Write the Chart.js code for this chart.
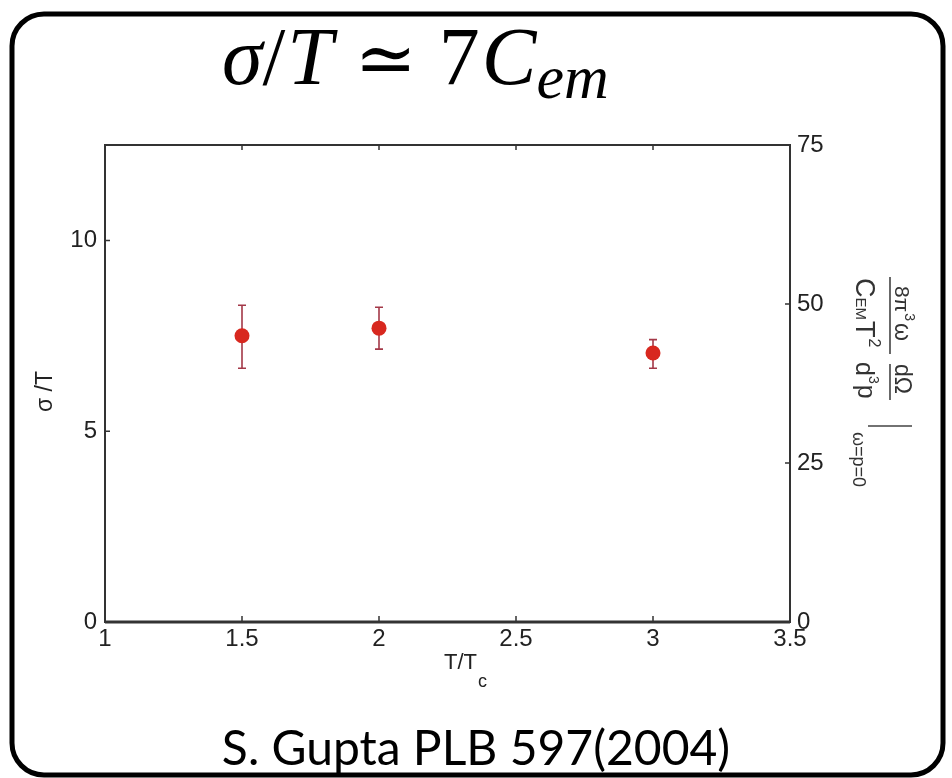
<!DOCTYPE html>
<html>
<head>
<meta charset="utf-8">
<script src="https://cdn.jsdelivr.net/npm/chart.js@4.4.0/dist/chart.umd.min.js"></script>
<style>
body { margin: 0; background: #fff; }
#wrap { width: 952px; height: 778px; }
</style>
</head>
<body>
<div id="wrap"><canvas id="myChart" width="952" height="778"></canvas></div>
<script>
// data
const tRatio = [1.5, 2, 3];
const sigmaT = [7.5, 7.7, 7.05];
const errHigh = [8.3, 8.25, 7.4];
const errLow = [6.65, 7.15, 6.65];
const xTicks = [1, 1.5, 2, 2.5, 3, 3.5];
const yTicks = [0, 5, 10];
const y2Ticks = [0, 25, 50, 75];

const sans = '"Liberation Sans", Arial, sans-serif';
const serif = '"Liberation Serif", "DejaVu Serif", serif';
const ink = '#222';

// page frame + white background
const pageFrame = {
    id: 'pageFrame',
    beforeDraw(chart) {
        const ctx = chart.ctx;
        ctx.save();
        ctx.fillStyle = '#fff';
        ctx.fillRect(0, 0, chart.width, chart.height);
        ctx.strokeStyle = '#000';
        ctx.lineWidth = 5;
        ctx.beginPath();
        ctx.roundRect(12, 14, 931, 761, 32);
        ctx.stroke();
        ctx.restore();
    }
};

// error bars drawn through the scales
const errorBars = {
    id: 'errorBars',
    beforeDatasetsDraw(chart) {
        const ctx = chart.ctx;
        const xs = chart.scales.x, ys = chart.scales.y;
        ctx.save();
        ctx.strokeStyle = '#a33848';
        ctx.lineWidth = 1.6;
        tRatio.forEach((t, i) => {
            const px = xs.getPixelForValue(t);
            const top = ys.getPixelForValue(errHigh[i]);
            const bot = ys.getPixelForValue(errLow[i]);
            ctx.beginPath();
            ctx.moveTo(px, top); ctx.lineTo(px, bot);
            ctx.moveTo(px - 4, top); ctx.lineTo(px + 4, top);
            ctx.moveTo(px - 4, bot); ctx.lineTo(px + 4, bot);
            ctx.stroke();
        });
        ctx.restore();
    }
};

// box around plot, inner ticks, all the titles
const decor = {
    id: 'decor',
    afterDraw(chart) {
        const ctx = chart.ctx;
        const a = chart.chartArea;
        const xs = chart.scales.x, ys = chart.scales.y, y2 = chart.scales.y2;
        ctx.save();
        ctx.strokeStyle = '#333';
        ctx.lineWidth = 2;
        ctx.strokeRect(a.left, a.top, a.right - a.left, a.bottom - a.top);
        ctx.lineWidth = 3;
        ctx.beginPath();
        ctx.moveTo(a.left, a.bottom); ctx.lineTo(a.right, a.bottom);
        ctx.stroke();

        ctx.lineWidth = 1.5;
        ctx.beginPath();
        xTicks.slice(1, -1).forEach(v => {
            const px = xs.getPixelForValue(v);
            ctx.moveTo(px, a.bottom); ctx.lineTo(px, a.bottom - 6);
            ctx.moveTo(px, a.top); ctx.lineTo(px, a.top + 5);
        });
        yTicks.slice(1).forEach(v => {
            const py = ys.getPixelForValue(v);
            ctx.moveTo(a.left, py); ctx.lineTo(a.left + 5, py);
        });
        y2Ticks.slice(1, -1).forEach(v => {
            const py = y2.getPixelForValue(v);
            ctx.moveTo(a.right, py); ctx.lineTo(a.right - 5, py);
        });
        ctx.stroke();

        ctx.fillStyle = ink;
        // left title
        ctx.save();
        ctx.translate(46, (a.top + a.bottom) / 2 + 8);
        ctx.rotate(-Math.PI / 2);
        ctx.font = '23px ' + sans;
        ctx.textAlign = 'center';
        ctx.textBaseline = 'middle';
        ctx.fillText('\u03C3 /T', 0, 0);
        ctx.restore();

        // bottom title T/T_c
        ctx.font = '22px ' + sans;
        ctx.textBaseline = 'alphabetic';
        ctx.textAlign = 'left';
        const xt = 'T/T';
        const cx = (a.left + a.right) / 2 + 17;
        const w = ctx.measureText(xt).width;
        ctx.fillText(xt, cx - w / 2 - 4, 669);
        ctx.font = '18px ' + sans;
        ctx.fillText('c', cx + w / 2 - 3, 687);

        drawRightTitle(ctx, a.right + 100, 276);

        // top formula
        drawFormula(ctx, 222, 84);

        // footer
        ctx.fillStyle = '#000';
        ctx.font = '48px Lato, "Open Sans", sans-serif';
        ctx.textAlign = 'center';
        ctx.fillText('S. Gupta PLB 597(2004)', 476, 765);
        ctx.restore();
    }
};

function drawFormula(ctx, x, base) {
    // [text, font, baseline shift, gap after]
    const parts = [
        ['\u03C3', 'italic 82px ' + serif, 0, 0],
        ['/', '82px ' + serif, 0, 2],
        ['T', 'italic 82px ' + serif, 0, 22],
        ['\u2243', '74px "DejaVu Serif", serif', 0, 22],
        ['7', '82px ' + serif, 0, 2],
        ['C', 'italic 82px ' + serif, 0, 0],
        ['em', 'italic 62px ' + serif, 14, 0]
    ];
    ctx.save();
    ctx.fillStyle = '#000';
    ctx.textAlign = 'left';
    ctx.textBaseline = 'alphabetic';
    parts.forEach(p => {
        ctx.font = p[1];
        ctx.fillText(p[0], x, base + p[2]);
        x += ctx.measureText(p[0]).width + p[3];
    });
    ctx.restore();
}

function drawRightTitle(ctx, ox, oy) {
    ctx.save();
    ctx.translate(ox, oy);
    ctx.rotate(Math.PI / 2);
    ctx.fillStyle = '#333';
    ctx.strokeStyle = '#444';
    ctx.textAlign = 'left';
    ctx.textBaseline = 'alphabetic';
    const put = (t, font, x, y) => {
        ctx.font = font + ' ' + sans;
        ctx.fillText(t, x, y);
        return x + ctx.measureText(t).width;
    };
    // first fraction
    let x = put('8\u03C0', '21px', 10, -5);
    x = put('3', '14px', x + 1, -15);
    put('\u03C9', '23px', x + 2, -5);
    x = put('C', '27px', 2, 34);
    x = put('EM', '15px', x, 34);
    x = put('T', '27px', x + 1, 34);
    put('2', '16px', x + 1, 21);
    ctx.lineWidth = 1.6;
    ctx.beginPath();
    ctx.moveTo(1, 0); ctx.lineTo(78, 0);
    // second fraction
    ctx.moveTo(88, 0); ctx.lineTo(124, 0);
    // evaluation bar
    ctx.moveTo(150, -22); ctx.lineTo(150, 22);
    ctx.stroke();
    put('d\u03A9', '23px', 88, -5);
    x = put('d', '25px', 86, 34);
    x = put('3', '14px', x, 21);
    put('p', '25px', x + 1, 32);
    put('\u03C9=p=0', '18px', 156, 37);
    ctx.restore();
}

const tickFont = { family: sans, size: 24 };

const ctx = document.getElementById('myChart').getContext('2d');
const myChart = new Chart(ctx, {
    type: 'scatter',
    data: {
        datasets: [{
            label: 'sigma/T',
            data: tRatio.map((t, i) => ({ x: t, y: sigmaT[i] })),
            backgroundColor: '#d8281f',
            borderWidth: 0,
            pointRadius: 7.5
        }]
    },
    options: {
        responsive: false,
        animation: false,
        layout: { padding: { top: 145, left: 0, right: 0, bottom: 0 } },
        plugins: {
            legend: { display: false },
            tooltip: { enabled: false }
        },
        scales: {
            x: {
                type: 'linear',
                min: 1, max: 3.5,
                afterBuildTicks: s => { s.ticks = xTicks.map(v => ({ value: v })); },
                afterFit: s => { s.height = 156; },
                grid: { display: false, drawTicks: false },
                border: { display: false },
                ticks: { padding: 3, color: ink, callback: v => String(v), font: tickFont }
            },
            y: {
                min: 0, max: 12.5,
                afterBuildTicks: s => { s.ticks = yTicks.map(v => ({ value: v })); },
                afterFit: s => { s.width = 105; },
                grid: { display: false, drawTicks: false },
                border: { display: false },
                ticks: { padding: 8, color: ink, callback: v => String(v), font: tickFont }
            },
            y2: {
                position: 'right',
                min: 0, max: 75,
                afterBuildTicks: s => { s.ticks = y2Ticks.map(v => ({ value: v })); },
                afterFit: s => { s.width = 162; },
                grid: { display: false, drawTicks: false },
                border: { display: false },
                ticks: { padding: 7, color: ink, callback: v => String(v), font: tickFont }
            }
        }
    },
    plugins: [pageFrame, errorBars, decor]
});
</script>
</body>
</html>
